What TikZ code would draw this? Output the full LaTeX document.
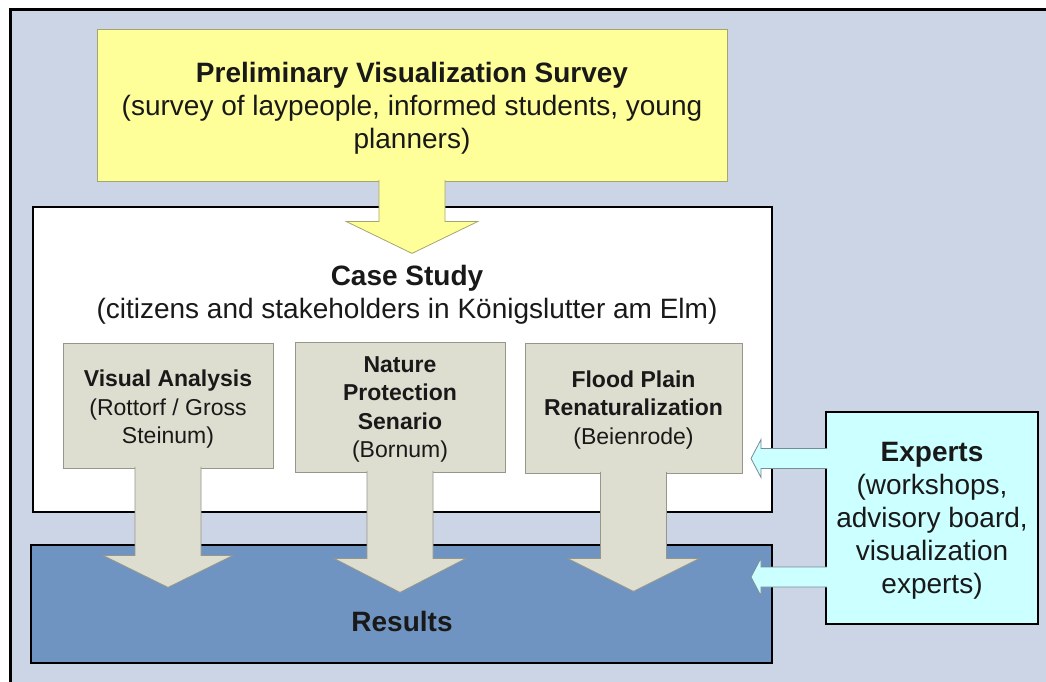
\documentclass[tikz,border=0pt]{standalone}
\usepackage{fontspec}
\setmainfont{Liberation Sans}
\usetikzlibrary{calc}
\definecolor{bgc}{RGB}{203,213,229}
\definecolor{yel}{RGB}{255,255,153}
\definecolor{yelb}{RGB}{165,165,110}
\definecolor{greyc}{RGB}{222,222,208}
\definecolor{greyb}{RGB}{150,150,138}
\definecolor{resc}{RGB}{112,148,194}
\definecolor{expc}{RGB}{204,255,255}
\definecolor{expb}{RGB}{120,140,150}
\definecolor{txt}{RGB}{25,25,25}
\newcommand\fatdown[6]{\path[#1] ($(#2.south)+(-#3,-1.5)$) -- ($(#2.south)+(-#3,#4)$) -- ($(#2.south)+(-#5,#4)$) -- ($(#2.south)+(0,#6)$) -- ($(#2.south)+(#5,#4)$) -- ($(#2.south)+(#3,#4)$) -- ($(#2.south)+(#3,-1.5)$);}
\newcommand\fatleft[3]{\path[#1] ($(#2.west)+(2,#3-10)$) -- ($(#2.west)+(-64,#3-10)$) -- ($(#2.west)+(-64,#3-19)$) -- ($(#2.west)+(-74,#3)$) -- ($(#2.west)+(-64,#3+19)$) -- ($(#2.west)+(-64,#3+10)$) -- ($(#2.west)+(2,#3+10)$);}
\begin{document}
\begin{tikzpicture}[x=1pt,y=-1pt,
  box/.style={rectangle, inner sep=0pt, align=center, text=txt},
  big/.style={font=\fontsize{28}{33}\selectfont},
  small/.style={font=\fontsize{23}{28.5}\selectfont},
  greybox/.style={box, fill=greyc, draw=greyb, line width=0.8pt},
  garrow/.style={fill=greyc, draw=greyb, line width=0.8pt},
  yarrow/.style={fill=yel, draw=yelb, line width=0.8pt},
  earrow/.style={fill=expc, draw=expb, line width=0.8pt},
]
\useasboundingbox (0,0) rectangle (1046,682);
\clip (0,0) rectangle (1046,682);
\fill[white] (0,0) rectangle (1046,682);
\draw[line width=3pt, fill=bgc] (10.5,9.5) rectangle (1080,720);

\node[box, fill=white, draw=black, line width=2.5pt, minimum width=739pt, minimum height=305pt] (cs) at (402.5,359.5) {};
\node[box, fill=resc, draw=black, line width=2.5pt, minimum width=741pt, minimum height=118pt] (res) at (401.5,604) {};

\node[box, fill=yel, draw=yelb, line width=0.8pt, minimum width=630pt, minimum height=152pt] (pv) at (412,105) {};
\fatdown{yarrow}{pv}{33}{40}{66}{72}

\node[greybox, minimum width=210pt, minimum height=125pt] (g1) at (168,405.5) {};
\node[greybox, minimum width=210pt, minimum height=130pt] (g2) at (400,407) {};
\node[greybox, minimum width=217pt, minimum height=130pt] (g3) at (633.5,408) {};
\fatdown{garrow}{g1}{33}{87}{65}{119}
\fatdown{garrow}{g2}{33}{86}{66}{120}
\fatdown{garrow}{g3}{33}{85}{66}{118}

\node[box, fill=expc, draw=black, line width=2pt, minimum width=212pt, minimum height=212pt] (ex) at (932,518) {};
\fatleft{earrow}{ex}{-59.5}
\fatleft{earrow}{ex}{59}

\node[box, big] (pvt) at ($(pv)+(0,3)$)
  {\textbf{Preliminary Visualization Survey}\\(survey of laypeople, informed students, young\\planners)};
\node[box, small] (g1t) at ($(g1)+(0,4)$) {\textbf{Visual Analysis}\\(Rottorf / Gross\\Steinum)};
\node[box, small] (g2t) at ($(g2)+(0,2.5)$) {\textbf{Nature}\\\textbf{Protection}\\\textbf{Senario}\\(Bornum)};
\node[box, small] (g3t) at ($(g3)+(0,2)$) {\textbf{Flood Plain}\\\textbf{Renaturalization}\\(Beienrode)};
\node[box, big] (ext) at ($(ex)+(0,3)$) {\textbf{Experts}\\(workshops,\\advisory board,\\visualization\\experts)};
\node[box, big] (cst) at (407,295) {\textbf{Case Study}\\(citizens and stakeholders in Königslutter am Elm)};
\node[box, big] (rest) at (402,621) {\textbf{Results}};
\end{tikzpicture}
\end{document}
